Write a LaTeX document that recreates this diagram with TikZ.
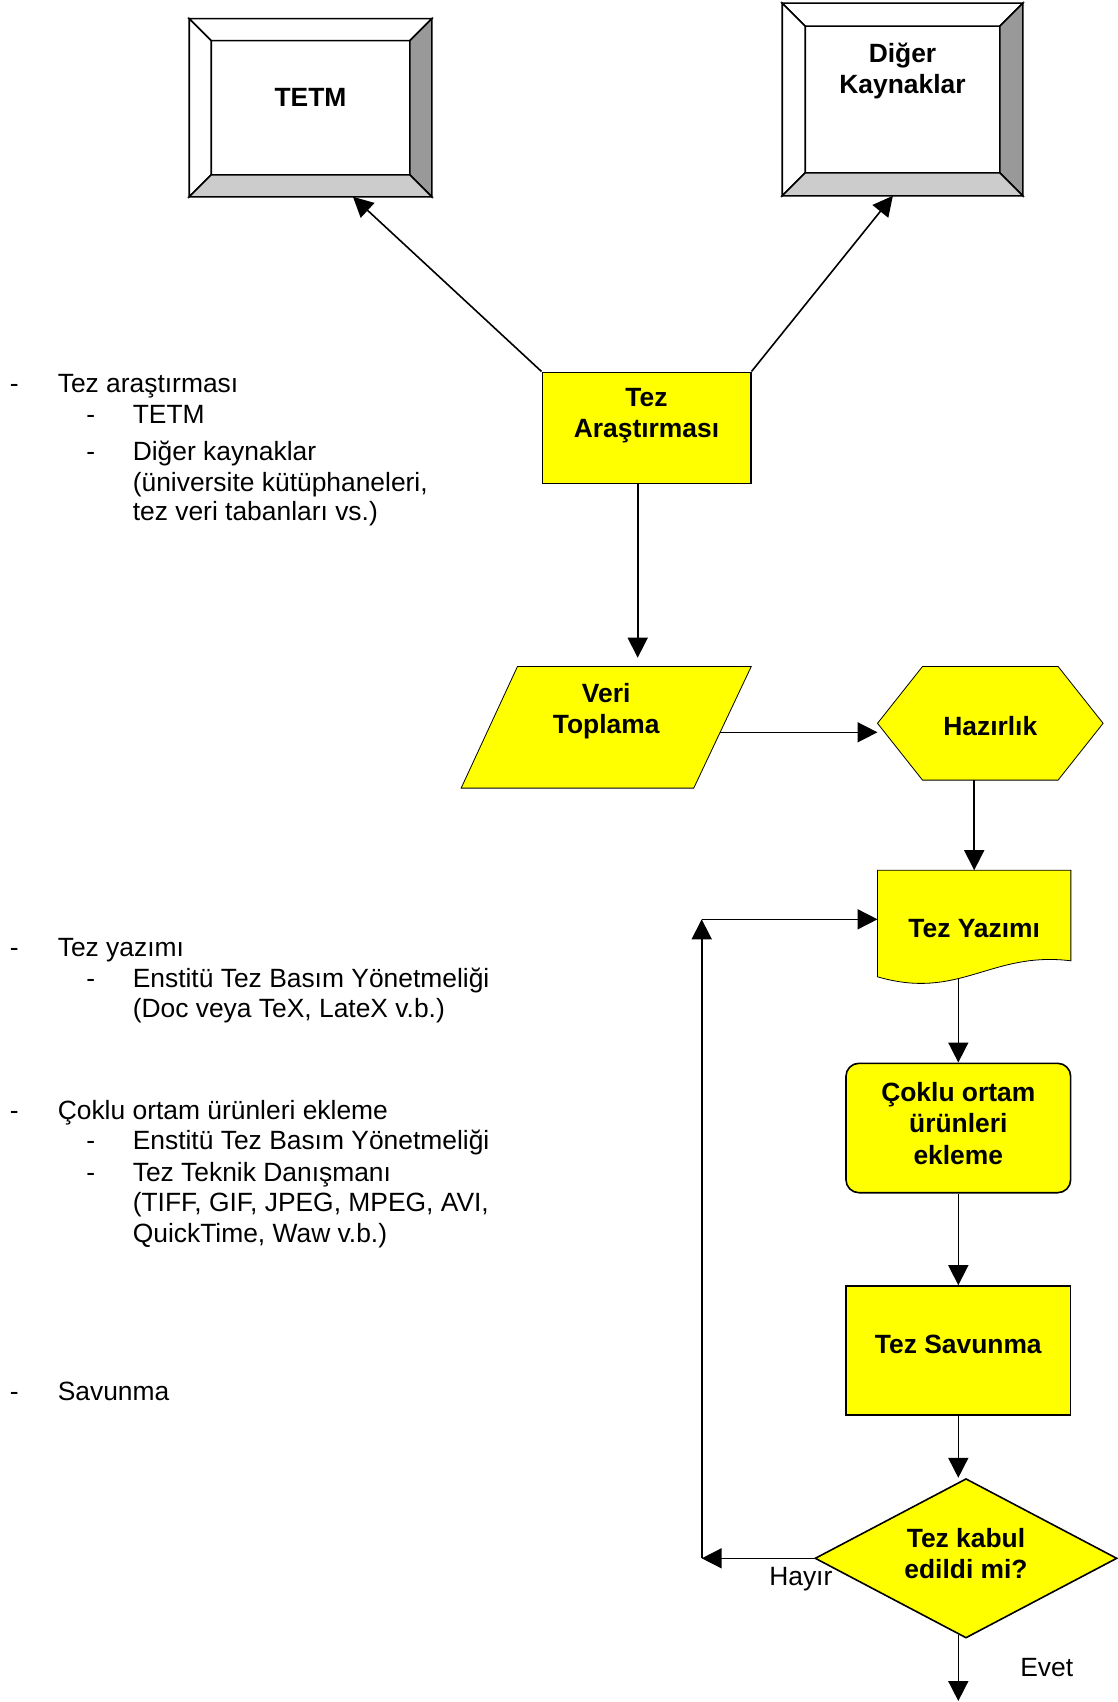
\documentclass[tikz,border=0pt]{standalone}
\usepackage{fontspec}
\setmainfont{Liberation Sans}
\usetikzlibrary{shapes.geometric, arrows.meta, calc, backgrounds}

\definecolor{flowyellow}{HTML}{FFFF00}
\definecolor{bevelgray}{HTML}{999999}
\definecolor{bevellight}{HTML}{CCCCCC}

\newcommand{\boxfont}{\fontsize{13.2pt}{15.6pt}\selectfont\bfseries}
\newcommand{\notefont}{\fontsize{13.2pt}{15.6pt}\selectfont}
% extra depth under the last line, pushes the text up in its box
\newcommand{\lift}[1]{\rule[-#1]{0pt}{#1}}
% extra height over the first line, pushes the text down
\newcommand{\drop}[1]{\rule{0pt}{#1}}
\newcommand{\itemdash}[1]{\makebox[#1][l]{-}}
% bevelled frame around a node: #1 node, #2 bevel width
\newcommand{\bevelframe}[2]{%
  \filldraw[fill=white] (#1.north west) -- (#1.north east) -- ($(#1.north east)+(-#2,#2)$) -- ($(#1.north west)+(#2,#2)$) -- cycle;
  \filldraw[fill=white] (#1.north west) -- ($(#1.north west)+(#2,#2)$) -- ($(#1.south west)+(#2,-#2)$) -- (#1.south west) -- cycle;
  \filldraw[fill=bevelgray] (#1.north east) -- (#1.south east) -- ($(#1.south east)+(-#2,-#2)$) -- ($(#1.north east)+(-#2,#2)$) -- cycle;
  \filldraw[fill=bevellight] (#1.south west) -- ($(#1.south west)+(#2,-#2)$) -- ($(#1.south east)+(-#2,-#2)$) -- (#1.south east) -- cycle;
}

\tikzset{
    bevel-box/.style = {draw, fill=white, rectangle, font=\boxfont, align=center, inner sep=0pt},
    yellow-box/.style = {draw, fill=flowyellow, rectangle, font=\boxfont, align=center, inner sep=0pt},
    outline-box/.style = {rectangle, font=\boxfont, align=center, inner sep=0pt},
    list-text/.style = {font=\notefont, anchor=base west, inner sep=0pt},
    flow-arrow/.style = {-{Triangle[length=10pt, width=10pt]}},
}

\begin{document}
\begin{tikzpicture}[x=0.5pt, y=-0.5pt, line width=0.8pt]
\useasboundingbox (0,0) rectangle (1118,1702);

% sources
\node[bevel-box, minimum width=120.5pt, minimum height=88.25pt] (tetm) at (310.5,107.75) {TETM\lift{10.7pt}};
\bevelframe{tetm}{22}
\node[bevel-box, minimum width=119.5pt, minimum height=95.5pt] (diger) at (902.5,99.5) {Diğer\\Kaynaklar\lift{31.25pt}};
\bevelframe{diger}{23}

% flow
\node[yellow-box, minimum width=104.2pt, minimum height=55.5pt] (ara) at (646.5,427.8) {Tez\\Araştırması\lift{15pt}};
\node[outline-box, minimum width=144.25pt, minimum height=60pt] (veri) at (606.2,727.3) {Veri\\Toplama\lift{19pt}};
\node[outline-box, minimum width=112pt, minimum height=56pt] (haz) at (990.3,723.3) {\drop{12.6pt}Hazırlık};
\node[outline-box, minimum width=95.85pt, minimum height=57.5pt] (yaz) at (974.2,928.5) {Tez Yazımı};
\node[yellow-box, rounded corners=6.5pt, minimum width=112.35pt, minimum height=64.7pt] (cok) at (958.3,1128) {Çoklu ortam\\ürünleri\\ekleme\lift{4.75pt}};
\node[yellow-box, minimum width=112.35pt, minimum height=64.5pt] (sav) at (958.3,1350.5) {Tez Savunma\lift{6.7pt}};
\node[yellow-box, diamond, aspect=1.9, minimum width=151pt, minimum height=79.7pt] (dia) at (966,1558.3) {Tez kabul\\edildi mi?\lift{4.5pt}};

\begin{scope}[on background layer]
\filldraw[fill=flowyellow] (veri.south west) -- ($(veri.north west)+(56.3,0)$) -- (veri.north east)
    -- ($(veri.south east)+(-57.5,0)$) -- cycle;
\filldraw[fill=flowyellow] (haz.west) -- ($(haz.north west)+(45,0)$) -- ($(haz.north east)+(-45,0)$) -- (haz.east)
    -- ($(haz.south east)+(-45,0)$) -- ($(haz.south west)+(45,0)$) -- cycle;
\filldraw[fill=flowyellow] ($(yaz.south west)+(0,-10)$) -- (yaz.north west) -- (yaz.north east) -- ($(yaz.south east)+(0,-26)$)
    .. controls ($(yaz.south east)+(-80,-36)$) and ($(yaz.south west)+(82,14)$) .. ($(yaz.south west)+(0,-10)$) -- cycle;
\end{scope}

% connectors
\coordinate (araout) at ($(ara.south)+(-8.8,0)$);
\coordinate (veriout) at ($(veri.east)+(-31.1,5)$);
\coordinate (loopA) at (701.7,1558.3);
\coordinate (loopB) at (701.7,919.3);
\coordinate (evet) at (958.3,1701);
\draw[flow-arrow] (ara.north west) -- ($(tetm.south west)!0.675!(tetm.south east)$);
\draw[flow-arrow] (ara.north east) -- ($(diger.south west)!0.46!(diger.south east)$);
\draw[flow-arrow, shorten >=4.4pt] (araout) -- (araout |- veri.north);
\draw[flow-arrow] (veriout) -- (veriout -| haz.west);
\draw[flow-arrow] (haz.south -| yaz.north) -- (yaz.north);
\draw[flow-arrow, shorten <=-4pt] (cok.north |- yaz.south) -- (cok.north);
\draw[flow-arrow] (cok.south) -- (sav.north);
\draw[flow-arrow] (sav.south) -- (sav.south |- dia.north);
\draw[flow-arrow] (dia.west) -- (loopA);
\draw[flow-arrow] (loopA) -- (loopB);
\draw[flow-arrow] (loopB) -- (loopB -| yaz.west);
\draw[flow-arrow, shorten <=-2pt] (evet |- dia.south) -- (evet);
\node[list-text, anchor=base] (hayir) at (800.8,1585) {Hayır};
\node[list-text, anchor=base] (evet-text) at (1046.7,1676.7) {Evet};

% notes on the left
\node[list-text] (t1) at (9,392.5) {\itemdash{24pt}Tez araştırması};
\node[list-text] (t1a) at (85.5,423.5) {\itemdash{23.25pt}TETM};
\node[list-text] (t1b) at (85.5,460.5) {\itemdash{23.25pt}Diğer kaynaklar};
\node[list-text] (t1c) at (132,491) {(üniversite kütüphaneleri,};
\node[list-text] (t1d) at (132,520.5) {tez veri tabanları vs.)};

\node[list-text] (t2) at (9,956.5) {\itemdash{24pt}Tez yazımı};
\node[list-text] (t2a) at (85.5,987.5) {\itemdash{23.25pt}Enstitü Tez Basım Yönetmeliği};
\node[list-text] (t2b) at (132,1017.5) {(Doc veya TeX, LateX v.b.)};

\node[list-text] (t3) at (9,1119.5) {\itemdash{24pt}Çoklu ortam ürünleri ekleme};
\node[list-text] (t3a) at (85.5,1149) {\itemdash{23.25pt}Enstitü Tez Basım Yönetmeliği};
\node[list-text] (t3b) at (85.5,1181) {\itemdash{23.25pt}Tez Teknik Danışmanı};
\node[list-text] (t3c) at (132,1211) {(TIFF, GIF, JPEG, MPEG, AVI,};
\node[list-text] (t3d) at (132,1242) {QuickTime, Waw v.b.)};

\node[list-text] (t4) at (9,1400.5) {\itemdash{24pt}Savunma};
\end{tikzpicture}
\end{document}
